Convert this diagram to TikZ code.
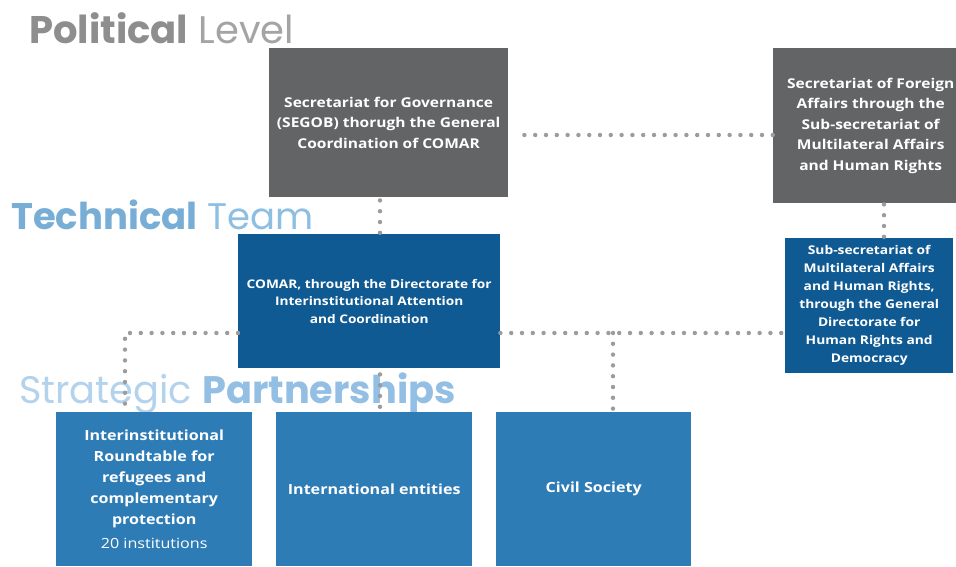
\documentclass[tikz,border=0pt]{standalone}
\usepackage{fontspec}
\setmainfont{Open Sans}[FakeStretch=1.15]
\newfontfamily\headfont{Poppins}
\definecolor{boxgray}{HTML}{626465}
\definecolor{darkblue}{HTML}{0F5A93}
\definecolor{midblue}{HTML}{2E7CB6}
\definecolor{dotgray}{HTML}{9C9C9C}
\definecolor{polgray}{HTML}{8E8E8E}
\definecolor{levgray}{HTML}{A4A4A4}
\definecolor{techblue}{HTML}{78AED6}
\definecolor{teamblue}{HTML}{8DBFE2}
\definecolor{stratblue}{HTML}{B3D2EC}
\definecolor{partblue}{HTML}{93BFE4}
\tikzset{
  box/.style={anchor=north west, inner sep=0pt, align=center, text=white,
    font=\bfseries\fontsize{13.5}{20.5}\selectfont},
  dots/.style={draw=dotgray, line width=4.4pt, line cap=round, dash pattern=on 0pt off 10.8pt},
  heading/.style={anchor=base west, inner sep=0pt}
}
\begin{document}
\begin{tikzpicture}[x=1pt,y=-1pt]
\useasboundingbox (0,0) rectangle (956,566);
\fill[white] (0,0) rectangle (956,566);

% headings
\node[heading, font=\headfont\fontsize{38.5}{38}\selectfont] (pol) at (29,43)
  {\textcolor{polgray}{\bfseries Political} \textcolor{levgray}{Level}};
\node[heading, font=\headfont\fontsize{37}{37}\selectfont] (tech) at (11,229)
  {\textcolor{techblue}{\bfseries Technical} \textcolor{teamblue}{Team}};
\node[heading, font=\headfont\fontsize{38.3}{38}\selectfont] (strat) at (19,403)
  {\textcolor{stratblue}{Strategic} \textcolor{partblue}{\bfseries Partnerships}};

% boxes
\node[box, fill=boxgray, minimum width=239pt, minimum height=149pt] (segob) at (269,48)
  {Secretariat for Governance\\(SEGOB) thorugh the General\\Coordination of COMAR};
\node[box, fill=boxgray, minimum width=183pt, minimum height=155pt] (foreign) at (773,48)
  {\hspace*{10pt}\parbox{175pt}{\centering Secretariat of Foreign\\Affairs through the\\Sub-secretariat of\\Multilateral Affairs\\and Human Rights}};
\node[box, fill=darkblue, minimum width=262pt, minimum height=134pt,
  font=\bfseries\fontsize{11.9}{17.5}\selectfont] (comar) at (238,234)
  {COMAR, through the Directorate for\\Interinstitutional Attention\\and Coordination};
\node[box, fill=darkblue, minimum width=168pt, minimum height=135pt,
  font=\bfseries\fontsize{12}{18}\selectfont] (subsec) at (785,238)
  {Sub-secretariat of\\Multilateral Affairs\\and Human Rights,\\through the General\\Directorate for\\Human Rights and\\Democracy};
\node[box, fill=midblue, minimum width=196pt, minimum height=154pt,
  font=\bfseries\fontsize{14}{21}\selectfont] (mesa) at (56,412)
  {Interinstitutional\\Roundtable for\\refugees and\\complementary\\protection\\[3pt]{\mdseries 20 institutions}};
\node[box, fill=midblue, minimum width=196pt, minimum height=154pt,
  font=\bfseries\fontsize{14}{21}\selectfont] (intl) at (276,412)
  {International entities};
\node[box, fill=midblue, minimum width=195pt, minimum height=154pt,
  font=\bfseries\fontsize{14}{21}\selectfont] (civil) at (496,412)
  {Civil Society};

% dotted connectors
\coordinate (jl) at (125,333);
\coordinate (jr) at (613,333);
\draw[dots] (segob.east |- 0,135) ++(16,0) -- (foreign.west |- 0,135);
\draw[dots] (380,0 |- segob.south) ++(0,3) -- (380,0 |- comar.north);
\draw[dots] (884,0 |- foreign.south) ++(0,1) -- (884,0 |- subsec.north);
\draw[dots] (comar.west |- jl) -- (jl) -- (jl |- mesa.north);
\draw[dots] (380,0 |- comar.south) ++(0,6) -- (380,0 |- intl.north);
\draw[dots] (comar.east |- jr) -- (subsec.west |- jr);
\draw[dots] (jr) -- (jr |- civil.north);
\end{tikzpicture}
\end{document}
